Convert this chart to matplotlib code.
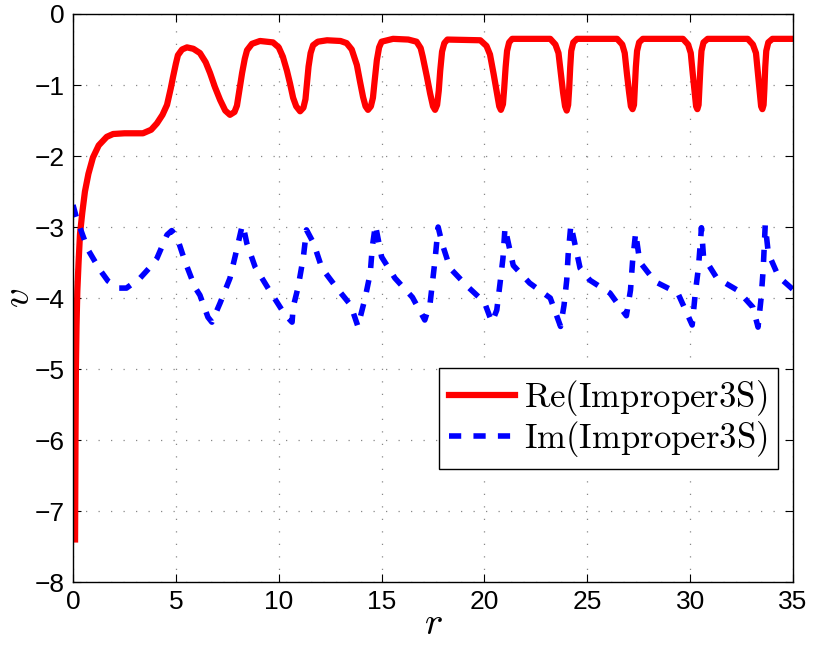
import numpy as np
import matplotlib
matplotlib.use("Agg")
import matplotlib.pyplot as plt

plt.rcParams["mathtext.fontset"] = "cm"
plt.rcParams["font.family"] = "Liberation Sans"

# Re(Improper3S): radial profile
r_re = [0.10, 0.12, 0.14, 0.17, 0.21, 0.27, 0.34, 0.45, 0.58, 0.75, 0.97, 1.25,
        1.64, 1.95, 2.5, 3.4, 3.8, 4.08, 4.35, 4.57, 4.75, 4.86, 5.0, 5.1, 5.3,
        5.54, 5.85, 6.17, 6.45, 6.66, 6.9, 7.15, 7.4, 7.63, 7.85, 7.97, 8.1,
        8.22, 8.35, 8.46, 8.7, 9.09, 9.72, 10.0, 10.2, 10.4, 10.55, 10.7, 10.85,
        11.04, 11.2, 11.3, 11.38, 11.45, 11.55, 11.67, 11.9, 12.35, 13.0, 13.3,
        13.55, 13.8, 13.95, 14.1, 14.22, 14.34, 14.48, 14.58, 14.66, 14.77,
        14.88, 15.0, 15.56, 16.3, 16.7, 16.9, 17.0, 17.2, 17.36, 17.5, 17.6,
        17.7, 17.78, 17.85, 17.94, 18.05, 18.2, 19.8, 20.1, 20.27, 20.45, 20.6,
        20.72, 20.8, 20.9, 20.96, 21.03, 21.1, 21.2, 21.35, 23.2, 23.45, 23.6,
        23.72, 23.82, 23.92, 24.0, 24.07, 24.12, 24.17, 24.22, 24.32, 24.5,
        26.45, 26.7, 26.82, 26.93, 27.03, 27.12, 27.2, 27.27, 27.31, 27.36,
        27.42, 27.52, 27.7, 29.65, 29.9, 30.03, 30.13, 30.22, 30.29, 30.35,
        30.41, 30.45, 30.5, 30.55, 30.65, 30.85, 32.8, 33.05, 33.2, 33.3, 33.38,
        33.45, 33.51, 33.57, 33.61, 33.65, 33.7, 33.8, 34.0, 35.0]
v_re = [-7.40, -6.00, -5.00, -4.40, -3.90, -3.50, -3.10, -2.80, -2.50, -2.25,
        -2.02, -1.85, -1.73, -1.69, -1.68, -1.68, -1.63, -1.54, -1.42, -1.28,
        -1.05, -0.89, -0.70, -0.58, -0.50, -0.47, -0.49, -0.55, -0.68, -0.83,
        -1.03, -1.21, -1.36, -1.42, -1.38, -1.29, -1.05, -0.83, -0.63, -0.51,
        -0.42, -0.38, -0.40, -0.47, -0.60, -0.80, -0.98, -1.18, -1.30, -1.37,
        -1.32, -1.20, -0.95, -0.74, -0.55, -0.44, -0.39, -0.37, -0.38, -0.41,
        -0.50, -0.72, -0.95, -1.17, -1.30, -1.35, -1.30, -1.18, -0.95, -0.65,
        -0.47, -0.39, -0.35, -0.36, -0.39, -0.48, -0.60, -0.88, -1.12, -1.30,
        -1.35, -1.28, -1.08, -0.80, -0.53, -0.41, -0.36, -0.37, -0.45, -0.57,
        -0.85, -1.10, -1.30, -1.35, -1.27, -1.05, -0.75, -0.52, -0.40, -0.35,
        -0.35, -0.43, -0.55, -0.85, -1.10, -1.30, -1.36, -1.28, -1.05, -0.75,
        -0.52, -0.40, -0.35, -0.35, -0.43, -0.55, -0.85, -1.10, -1.30, -1.34,
        -1.28, -1.05, -0.75, -0.52, -0.40, -0.35, -0.35, -0.43, -0.55, -0.85,
        -1.10, -1.30, -1.34, -1.28, -1.05, -0.75, -0.52, -0.40, -0.35, -0.35,
        -0.43, -0.55, -0.85, -1.10, -1.30, -1.34, -1.28, -1.05, -0.75, -0.52,
        -0.40, -0.35, -0.35]

# Im(Improper3S)
r_im = [0.0, 0.15, 0.34, 0.73, 1.3, 1.7, 2.2, 2.6, 3.26, 3.7, 4.08, 4.57, 4.8,
        5.05, 5.45, 5.93, 6.17, 6.56, 6.75, 7.15, 7.63, 7.9, 8.2, 8.26, 8.45,
        8.85, 9.48, 10.16, 10.55, 10.65, 10.7, 10.94, 11.2, 11.35, 11.7, 12.1,
        12.8, 13.5, 13.85, 14.2, 14.45, 14.55, 14.7, 15.0, 15.65, 16.5, 17.1,
        17.36, 17.6, 17.75, 17.94, 18.33, 19.15, 20.0, 20.27, 20.37, 20.6,
        20.76, 20.9, 21.0, 21.4, 22.2, 23.2, 23.7, 23.87, 24.0, 24.07, 24.2,
        24.65, 25.13, 26.1, 26.9, 27.1, 27.2, 27.35, 27.55, 28.3, 29.4, 30.1,
        30.25, 30.4, 30.5, 30.55, 30.65, 31.3, 32.3, 33.05, 33.3, 33.45, 33.55,
        33.65, 33.8, 34.3, 35.0]
v_im = [-2.69, -2.85, -3.01, -3.32, -3.60, -3.76, -3.86, -3.86, -3.72, -3.58,
        -3.44, -3.11, -3.05, -3.14, -3.49, -3.85, -3.96, -4.27, -4.34, -4.07,
        -3.72, -3.39, -3.01, -2.97, -3.23, -3.56, -3.86, -4.17, -4.31, -4.34,
        -4.13, -3.85, -3.42, -3.04, -3.23, -3.58, -3.85, -4.10, -4.40, -4.00,
        -3.65, -3.28, -2.97, -3.42, -3.72, -3.99, -4.31, -4.07, -3.46, -3.00,
        -3.23, -3.58, -3.83, -4.06, -4.27, -4.34, -4.17, -3.79, -3.44, -3.01,
        -3.54, -3.79, -4.00, -4.40, -4.10, -3.75, -3.39, -2.97, -3.58, -3.75,
        -3.93, -4.25, -3.89, -3.49, -3.08, -3.49, -3.77, -3.93, -4.38, -3.93,
        -3.58, -3.21, -3.01, -3.42, -3.72, -3.89, -4.13, -4.41, -4.00, -3.60,
        -2.97, -3.37, -3.70, -3.88]

x_ticks = [0, 5, 10, 15, 20, 25, 30, 35]
y_ticks = [-8, -7, -6, -5, -4, -3, -2, -1, 0]

fig = plt.figure(figsize=(8.13, 6.54), dpi=100)
ax = fig.add_axes([0.0898, 0.110, 0.8856, 0.8686])

ax.plot(r_re, v_re, "-", color="#ff0000", lw=4.5, label=r"$\mathrm{Re(Improper3S)}$")
ax.plot(r_im, v_im, "--", color="#0000ff", lw=4.0, dashes=(2.2, 2.2),
        label=r"$\mathrm{Im(Improper3S)}$")

ax.set_xlim(0, 35)
ax.set_ylim(-8, 0)
ax.set_xticks(x_ticks)
ax.set_yticks(y_ticks)
ax.set_yticklabels(["\u22128", "\u22127", "\u22126", "\u22125", "\u22124",
                    "\u22123", "\u22122", "\u22121", "0"])
ax.tick_params(direction="in", length=6, width=0.8, top=True, right=True,
               labelsize=19, pad=6)
ax.grid(True, color="#888888", linestyle=(0, (1, 9)), linewidth=0.9)
for sp in ax.spines.values():
    sp.set_linewidth(1.0)

ax.set_xlabel(r"$r$", fontsize=28, labelpad=-6)
ax.set_ylabel(r"$v$", fontsize=28, labelpad=-2)

leg = ax.legend(loc="upper right", bbox_to_anchor=(0.979, 0.377),
                borderaxespad=0, fontsize=25, handlelength=1.9,
                handletextpad=0.25, labelspacing=0.02, borderpad=0.3,
                fancybox=False, framealpha=1)
leg.get_frame().set_edgecolor("black")
leg.get_frame().set_linewidth(1.0)

fig.savefig("out.png", dpi=100)
